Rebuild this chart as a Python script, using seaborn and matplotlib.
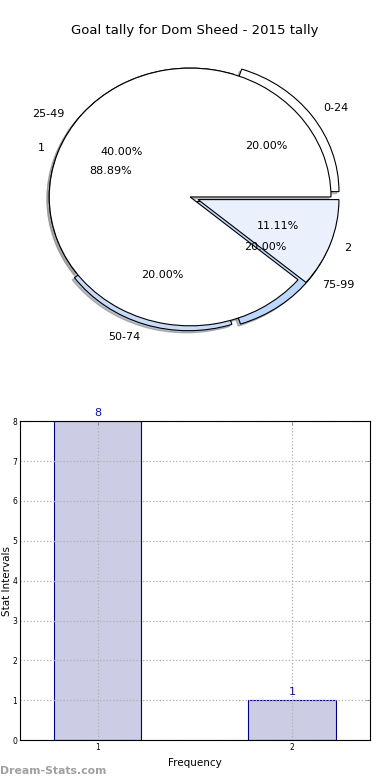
import matplotlib
matplotlib.use("Agg")
import matplotlib.pyplot as plt
import seaborn as sns
import pandas as pd

title = "Goal tally for Dom Sheed - 2015 tally"
range_labels = ["0-24", "25-49", "50-74", "75-99"]
range_values = [20, 40, 20, 20]
count_labels = ["1", "2"]
count_values = [8, 1]
bar_x = [1, 2]
bar_heights = [8, 1]

sns.set_style("white")
plt.rcParams['font.family'] = ['DejaVu Sans']
plt.rcParams['text.color'] = 'black'
plt.rcParams['axes.labelcolor'] = 'black'
plt.rcParams['xtick.color'] = 'black'
plt.rcParams['ytick.color'] = 'black'

fig = plt.figure(figsize=(3.9, 7.8), dpi=100)

shadow_style = dict(ox=-0.012, oy=-0.012, shade=0.45)

# Pie axes
axp = fig.add_axes([0.036, 0.541, 0.903, 0.413])
axp.pie(range_values, labels=range_labels, colors=["white", "white", "#c8dcfa", "#bcd8fc"],
        explode=[0.07, 0, 0.04, 0.06], autopct='%.2f%%', shadow=shadow_style,
        wedgeprops=dict(edgecolor="black", linewidth=0.8),
        textprops=dict(fontsize=8, color='black'))
axp.pie(count_values, labels=count_labels, colors=["white", "#eaf1fd"],
        explode=[0, 0.06], autopct='%.2f%%', shadow=shadow_style,
        wedgeprops=dict(edgecolor="black", linewidth=0.8),
        textprops=dict(fontsize=8, color='black'))
axp.set_aspect('auto')
axp.set_xlim(-1.25, 1.25)
axp.set_ylim(-1.25, 1.25)
fig.text(0.5, 0.961, title, ha='center', va='center', fontsize=9.5, color='black')

# Bar axes
axb = fig.add_axes([0.051, 0.051, 0.897, 0.409])
df = pd.DataFrame({"x": bar_x, "y": bar_heights})
sns.barplot(data=df, x="x", y="y", native_scale=True, width=0.45,
            color="#ccccE5", saturation=1, edgecolor="#000080", linewidth=0.8, ax=axb)
axb.set_xlim(0.6, 2.4)
axb.set_ylim(0, 8)
axb.set_xticks(bar_x)
axb.set_xticklabels([str(v) for v in bar_x])
axb.set_yticks(range(0, 9))
axb.tick_params(axis='both', labelsize=5.5, direction='in', top=True, right=True,
                length=3, width=0.6, color='#888888', pad=2)
axb.grid(True, linestyle=':', color='#b0b0b0', linewidth=0.9)
axb.set_axisbelow('line')
for s in axb.spines.values():
    s.set_color('black')
    s.set_linewidth(0.8)
axb.set_xlabel("Frequency", fontsize=7.5, labelpad=4)
axb.set_ylabel("Stat Intervals", fontsize=7.5, labelpad=0)
for xv, yv in zip(bar_x, bar_heights):
    axb.text(xv, yv + 0.08, str(yv), ha='center', va='bottom', fontsize=8, color='#1010a0')

fig.text(0.0, 0.005, "Dream-Stats.com", fontsize=7.8, color='#a0a0a0', weight='bold',
         ha='left', va='bottom')

fig.savefig("out.png", dpi=100)
